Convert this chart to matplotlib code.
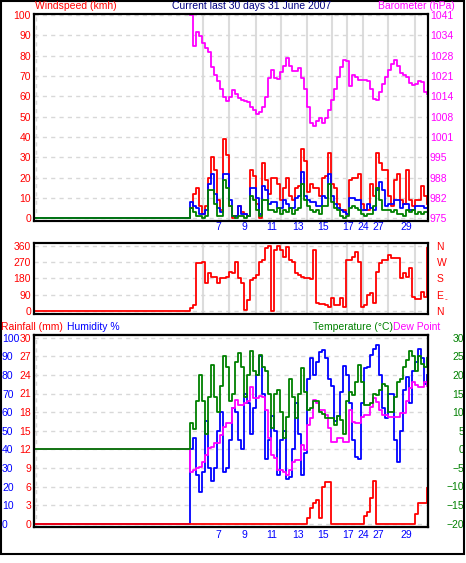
import numpy as np
import matplotlib
matplotlib.use("Agg")
import matplotlib.pyplot as plt

plt.rcParams['font.family'] = ['Liberation Sans', 'DejaVu Sans']
plt.rcParams['font.size'] = 7.5

W, H = 466, 563

# record index of each logged sample (logging starts at record 52)
rec = np.arange(52, 132)

gust = [5, 12, 15, 6, 2, 6, 20, 30, 24, 9,
        4, 39, 31, 6, 0, 1, 6, 3, 2, 1,
        24, 21, 7, 0, 27, 19, 12, 20, 20, 17,
        9, 15, 20, 11, 9, 15, 16, 34, 28, 13,
        17, 15, 15, 11, 20, 21, 32, 17, 15, 7,
        4, 4, 2, 19, 20, 20, 22, 7, 4, 4,
        17, 11, 32, 27, 24, 24, 11, 6, 19, 22,
        9, 7, 24, 9, 6, 9, 9, 16, 11, 7]
avg = [8, 6, 5, 2, 2, 4, 17, 22, 12, 5,
       3, 22, 22, 9, 1, 1, 6, 2, 2, 1,
       15, 15, 10, 2, 16, 14, 7, 8, 8, 5,
       5, 9, 7, 5, 5, 10, 11, 23, 11, 9,
       8, 8, 6, 6, 11, 10, 22, 11, 7, 5,
       4, 3, 2, 10, 10, 9, 9, 4, 4, 7,
       5, 4, 14, 18, 14, 6, 7, 7, 9, 9,
       5, 7, 7, 4, 4, 6, 6, 6, 5, 5]
wind = [5, 3, 1, 1, 0, 1, 14, 14, 7, 1,
        1, 19, 15, 6, 1, 0, 1, 1, 0, 1,
        11, 9, 4, 1, 9, 9, 4, 4, 3, 5,
        2, 4, 3, 5, 2, 4, 5, 17, 9, 6,
        4, 3, 4, 2, 6, 6, 17, 8, 5, 4,
        1, 0, 1, 5, 6, 5, 4, 2, 1, 2,
        2, 6, 15, 9, 4, 4, 4, 3, 4, 2,
        2, 1, 4, 3, 4, 2, 3, 2, 3, 3]
baro = [1041, 1031, 1035.5, 1034, 1032, 1030.3, 1029, 1024, 1021.5, 1019.5,
        1017, 1014.5, 1013, 1014.5, 1016.5, 1015.5, 1014, 1013.5, 1013.2, 1012.8,
        1011, 1010, 1008.8, 1009.5, 1011, 1014.5, 1020.5, 1023, 1020.5, 1020.2,
        1022.5, 1024.5, 1027, 1024.5, 1022.7, 1022.7, 1023.8, 1020.5, 1017, 1011,
        1006, 1005, 1006.5, 1007.5, 1006, 1007.5, 1010, 1013.5, 1017, 1021,
        1024, 1026.5, 1026, 1018, 1021.5, 1021, 1020, 1020, 1019.8, 1019.5,
        1017, 1013.7, 1013.5, 1016, 1018.5, 1021, 1023, 1025, 1026.3, 1024.5,
        1022, 1021.5, 1020.8, 1019, 1018.3, 1018.5, 1019.4, 1019.3, 1016, 1015.5]
wdir = [16, 35, 263, 267, 272, 154, 208, 190, 190, 154,
        181, 185, 190, 217, 208, 272, 181, 154, 7, 62,
        172, 181, 199, 272, 281, 345, 358, 2, 336, 358,
        336, 300, 355, 281, 272, 208, 199, 190, 181, 181,
        175, 336, 44, 40, 40, 35, 26, 71, 35, 35,
        71, 26, 281, 281, 300, 327, 272, 26, 35, 90,
        99, 44, 217, 263, 281, 281, 309, 290, 290, 290,
        181, 208, 190, 236, 80, 66, 66, 108, 80, 345]
hum = [40, 46, 26, 17, 28, 55, 30, 23, 30, 50,
       60, 28, 30, 45, 62, 60, 45, 40, 70, 65,
       48, 62, 80, 90, 70, 35, 45, 58, 50, 26,
       45, 50, 24, 25, 40, 65, 48, 26, 38, 78,
       89, 80, 87, 92.5, 93.4, 89, 78, 74, 55, 58,
       71, 85, 80, 65, 45, 36, 35, 65, 83.5, 84,
       90.7, 94, 96, 80, 62, 57, 70, 70, 45, 33,
       50, 72, 79, 65, 82, 87, 94, 89, 75, 80]
temp = [7, 5.5, 13, 20, 13, 4, 14, 22.7, 14, 10,
        17, 25, 22, 13, 15, 23.6, 25.8, 22, 14, 20,
        26.3, 21, 20, 25.4, 22, 21, 15, 5.6, 15, 16,
        10, 3, 8.8, 19, 14, 8.3, 15, 21.8, 15.5, 10.6,
        11, 13, 13, 10, 9.5, 8.5, 8.3, 8.3, 6.5, 9,
        8, 4, 13, 15.5, 14.6, 18, 22.7, 18, 12, 12,
        12.4, 15, 14.6, 16, 17.5, 17, 10, 10, 14, 18,
        19, 22, 24, 26.3, 25, 21, 25, 23, 22, 24.5]
dew = [-6, -5.5, -5, -4.7, -3.3, -1.5, 0.3, 0.7, 1.6, 1.6,
       3.9, 6, 7, 7, 11, 13.3, 12, 12, 12.4, 13,
       16.8, 13.7, 13.7, 14.2, 14, 10.6, 3, -1.5, -2.4, -5.6,
       -5.6, -6, -6.9, -5.6, -3.3, -2.9, -2.9, 1.2, -0.2, 6.5,
       8.3, 13.3, 12.4, 10.6, 10.6, 9.2, 5.6, 2, 2, 3,
       3, 2, 2, 10.6, 7.4, 7, 7, 8.8, 9.2, 9.2,
       11.5, 13.7, 12.8, 10.6, 9.2, 9.2, 8.8, 8.8, 8.8, 8.8,
       9.7, 9.7, 13, 16.4, 18.2, 17.3, 16.8, 16.8, 18.2, 17]
rain = [0, 0, 0, 0, 0, 0, 0, 0, 0, 0,
        0, 0, 0, 0, 0, 0, 0, 0, 0, 0,
        0, 0, 0, 0, 0, 0, 0, 0, 0, 0,
        0, 0, 0, 0, 0, 0, 0, 0, 0, 0.9,
        2.5, 3.3, 3.8, 0.9, 6.0, 6.8, 6.8, 0, 0, 0,
        0, 0, 0, 0, 0, 0, 0, 0, 1.2, 1.9,
        4.1, 6.9, 0, 0, 0, 0, 0, 0, 0, 0,
        0, 0, 0, 0, 0, 1.5, 3.3, 3.3, 3.3, 5.8]

day_lines = [56.2, 64.9, 74.0, 82.2, 90.9, 99.2, 104.4, 109.8, 118.1, 127.0]
day_ticks = [61.4, 70.1, 79.2, 87.9, 96.4, 104.6, 109.9, 114.9, 124.2]
day_labels = ['7', '9', '11', '13', '15', '17', '24', '27', '29']

wind_ticks = list(range(0, 101, 10))
baro_ticks = np.linspace(975, 1041, 11)
baro_labels = ['975', '982', '988', '995', '1001', '1008', '1014', '1021', '1028', '1034', '1041']
dir_ticks = [0, 90, 180, 270, 360]
dir_labels = ['N', 'E', 'S', 'W', 'N']
rain_ticks = list(range(0, 31, 3))
hum_ticks = list(range(0, 101, 10))
temp_ticks = list(range(-20, 31, 5))

GRID = '#d8d8d8'
DAY = '#dcdcdc'
LW = 1.3
XLIM = (-0.2, 131.33)


def lead(v):
    # flat zero before the station started logging
    return np.r_[0, rec], np.r_[0, v]


def px_axes(left, top, right, bottom):
    return fig.add_axes([left / W, 1 - bottom / H, (right - left) / W, (bottom - top) / H])


def style(ax, color, pad):
    ax.set_xlim(*XLIM)
    for s in ax.spines.values():
        s.set_linewidth(1.5)
        s.set_color('black')
    ax.tick_params(axis='y', length=0, pad=pad, labelcolor=color)
    ax.yaxis.grid(True, color=GRID, linestyle=(0, (3, 3)), lw=1)
    ax.set_axisbelow(True)


fig = plt.figure(figsize=(W / 100, H / 100), dpi=100)

# ---- wind / barometer
ax1 = px_axes(33.5, 14, 428, 221)
style(ax1, 'red', 1.8)
ax1.set_ylim(-1.33, 100.5)
ax1.set_yticks(wind_ticks)
for d in day_lines:
    ax1.axvline(d, color=DAY, lw=1.5, zorder=0.5)
ax1.axvline(0.7, color=GRID, lw=1, ls=(0, (3, 3)), zorder=0.5)
ax1.step(*lead(gust), where='post', color='red', lw=LW)
ax1.step(*lead(avg), where='post', color='blue', lw=LW)
ax1.step(*lead(wind), where='post', color='green', lw=LW)
ax1.set_xticks(day_ticks, day_labels)
ax1.tick_params(axis='x', length=0, pad=1, labelcolor='blue')

ax1b = ax1.twinx()
ax1b.set_ylim(974.13, 1041.3)
ax1b.set_yticks(baro_ticks, baro_labels)
ax1b.tick_params(axis='y', length=0, pad=1.4, labelcolor='magenta')
for s in ax1b.spines.values():
    s.set_linewidth(1.5)
ax1b.step(rec, baro, where='post', color='magenta', lw=LW)

# ---- wind direction
ax2 = px_axes(33.5, 243, 428, 314)
style(ax2, 'red', 1.8)
ax2.set_ylim(-14.8, 374.8)
ax2.set_yticks(dir_ticks)
for d in day_lines:
    ax2.axvline(d, color=DAY, lw=1.5, zorder=0.5)
ax2.step(*lead(wdir), where='post', color='red', lw=LW)
ax2.set_xticks([])
ax2b = ax2.twinx()
ax2b.set_ylim(-14.8, 374.8)
ax2b.set_yticks(dir_ticks, dir_labels)
ax2b.tick_params(axis='y', length=0, pad=6.2, labelcolor='red')
for s in ax2b.spines.values():
    s.set_linewidth(1.5)
fig.text(446 / W, 1 - 300 / H, '-', color='red', fontsize=6, ha='center', va='center')

# ---- humidity / temperature / rain
ax3 = px_axes(33.5, 335, 428, 527)
style(ax3, 'blue', 22.7)
ax3.set_ylim(-1.77, 101.45)
ax3.set_yticks(hum_ticks)
ax3.axvline(0.7, color=GRID, lw=1, ls=(0, (3, 3)), zorder=0.5)
plt.setp(ax3.get_yticklabels(), ha='left')
ax3.step(*lead(hum), where='post', color='blue', lw=LW)
ax3.set_xticks(day_ticks, day_labels)
ax3.tick_params(axis='x', length=0, pad=2, labelcolor='blue')

ax3t = ax3.twinx()
ax3t.set_ylim(-20.89, 30.73)
ax3t.set_yticks(temp_ticks)
ax3t.tick_params(axis='y', length=0, pad=25.9, labelcolor='green')
plt.setp(ax3t.get_yticklabels(), ha='right')
ax3t.step(*lead(dew), where='post', color='magenta', lw=LW)
ax3t.step(*lead(temp), where='post', color='green', lw=LW)

ax3r = ax3.twinx()
ax3r.yaxis.tick_left()
ax3r.set_ylim(-0.53, 30.43)
ax3r.set_yticks(rain_ticks)
ax3r.tick_params(axis='y', length=0, pad=1.8, labelcolor='red')
ax3r.step(*lead(rain), where='post', color='red', lw=LW)
for a in (ax3t, ax3r):
    for s in a.spines.values():
        s.set_linewidth(1.5)

# ---- titles
ty = 1 - 6 / H
fig.text(35 / W, ty, 'Windspeed (kmh)', color='red', ha='left', va='center')
fig.text(252 / W, ty, 'Current last 30 days 31 June 2007', color='navy', ha='center', va='center')
fig.text(455 / W, ty, 'Barometer (hPa)', color='magenta', ha='right', va='center')
by = 1 - 327 / H
fig.text(1 / W, by, 'Rainfall (mm)', color='red', ha='left', va='center')
fig.text(67 / W, by, 'Humidity %', color='blue', ha='left', va='center')
fig.text(393 / W, by, 'Temperature (°C)', color='green', ha='right', va='center')
fig.text(393 / W, by, 'Dew Point', color='magenta', ha='left', va='center')

fig.add_artist(plt.Rectangle((0.8 / W, 1 - 554 / H), 463 / W, 553 / H, fill=False,
                             ec='black', lw=1.5, transform=fig.transFigure))

fig.savefig('out.png', dpi=100)
